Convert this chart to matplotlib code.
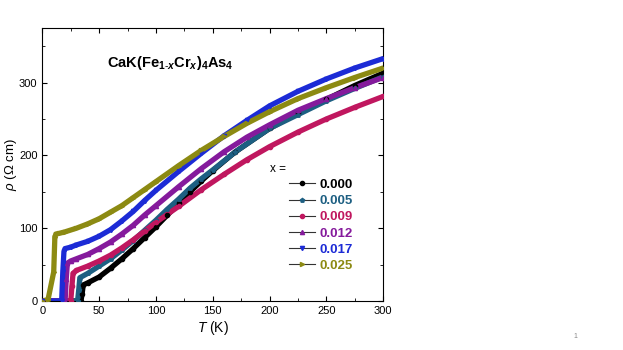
import numpy             as np
import matplotlib.pyplot as plt

plt.rcParams['font.family'] = ['Liberation Sans', 'DejaVu Sans']
plt.rcParams['mathtext.fontset'] = 'custom'
plt.rcParams['mathtext.rm'] = 'Liberation Sans'
plt.rcParams['mathtext.it'] = 'Liberation Sans:italic'
plt.rcParams['mathtext.bf'] = 'Liberation Sans:bold'
plt.rcParams['mathtext.bfit'] = 'Liberation Sans:bold:italic'

# resistivity curves (T in K, rho in Ohm cm)
labels  = [ '0.000', '0.005', '0.009', '0.012', '0.017', '0.025' ]
colors  = [ '#000000', '#1d5f82', '#c0175f', '#851a9c', '#1c2bd6', '#8c8a12' ]
markers = [ 'o', 'p', 'o', '^', 'v', '>' ]

T_000   = [ 0, 34, 35, 36, 40, 50, 60, 70, 80, 90, 100, 110, 120, 130, 140, 150, 170, 200, 225, 250, 275, 300 ]
rho_000 = [ 0, 0, 10, 22, 25, 33, 45, 58, 72, 87, 102, 118, 134, 150, 165, 179, 205, 237, 258, 277, 296, 313 ]

T_005   = [ 0, 31, 32, 33, 40, 50, 60, 70, 80, 90, 100, 110, 120, 130, 140, 150, 170, 200, 225, 250, 275, 300 ]
rho_005 = [ 0, 0, 15, 32, 38, 48, 58, 70, 83, 97, 111, 126, 140, 155, 168, 180, 205, 237, 256, 275, 292, 308 ]

T_009   = [ 0, 25, 26, 27, 30, 40, 50, 60, 70, 80, 90, 100, 120, 140, 160, 180, 200, 225, 250, 275, 300 ]
rho_009 = [ 0, 0, 20, 38, 42, 48, 55, 63, 73, 84, 96, 108, 130, 153, 174, 194, 212, 232, 250, 266, 281 ]

T_012   = [ 0, 20, 21, 22, 25, 30, 40, 50, 60, 70, 80, 90, 100, 120, 140, 160, 180, 200, 225, 250, 275, 300 ]
rho_012 = [ 0, 0, 30, 52, 55, 58, 64, 72, 81, 92, 104, 118, 131, 157, 182, 205, 225, 242, 262, 278, 293, 307 ]

T_017   = [ 0, 17, 18, 19, 20, 25, 30, 40, 50, 60, 70, 80, 90, 100, 120, 140, 160, 180, 200, 225, 250, 275, 300 ]
rho_017 = [ 0, 0, 40, 68, 72, 74, 77, 82, 89, 98, 110, 123, 138, 152, 178, 203, 227, 248, 268, 288, 305, 320, 333 ]

T_025   = [ 0, 5, 10, 11, 12, 15, 20, 30, 40, 50, 60, 70, 80, 90, 100, 120, 140, 160, 180, 200, 225, 250, 275, 300 ]
rho_025 = [ 0, 2, 40, 88, 92, 93, 95, 100, 106, 113, 122, 131, 142, 153, 164, 186, 207, 226, 244, 260, 278, 293, 307, 320 ]

T_all   = [ T_000, T_005, T_009, T_012, T_017, T_025 ]
rho_all = [ rho_000, rho_005, rho_009, rho_012, rho_017, rho_025 ]


fig = plt.figure( figsize=(6.23, 3.5), dpi=100 )
ax  = fig.add_axes( [0.068, 0.14, 0.547, 0.78] )

for T, rho, c, m, lab in zip( T_all, rho_all, colors, markers, labels ):
    ax.plot( T, rho, color=c, lw=3.8, solid_capstyle='round', solid_joinstyle='round', zorder=2 )
    ax.plot( T, rho, color=c, lw=0, marker=m, ms=3, mfc=c, mec=c, zorder=3 )
    # legend handle only
    ax.plot( [], [], color='#333333', lw=0.8, marker=m, ms=3, mfc=c, mec=c, label=lab )

ax.set_xlim( 0, 300 )
ax.set_ylim( 0, 375 )
ax.set_xticks( [0, 50, 100, 150, 200, 250, 300] )
ax.set_yticks( [0, 100, 200, 300] )
ax.set_xticks( np.arange(25, 300, 50), minor=True )
ax.set_yticks( [50, 150, 250, 350], minor=True )
ax.tick_params( which='both', direction='in', top=True, right=True, labelsize=8 )
ax.tick_params( which='major', length=3.5 )
ax.tick_params( which='minor', length=2 )

ax.set_xlabel( r'$\mathit{T}$ (K)', fontsize=10, labelpad=2 )
ax.set_ylabel( r'$\rho$ ($\Omega$ cm)', fontsize=9.5, labelpad=0 )

ax.text( 57, 322, r'$\mathbf{CaK(Fe_{1\text{-}\mathbfit{x}}Cr_{\mathbfit{x}})_4As_4}$',
         fontsize=10.5 )

ax.text( 0.668, 0.482, 'x =', transform=ax.transAxes, fontsize=8.5, va='center' )
leg = ax.legend( loc='upper left', bbox_to_anchor=(0.724, 0.448), frameon=False,
                 fontsize=9.5, handlelength=2.0, handletextpad=0.3,
                 labelspacing=0.3, borderpad=0, borderaxespad=0 )
for txt, c in zip( leg.get_texts(), colors ):
    txt.set_color( c )
    txt.set_fontweight( 'bold' )

fig.text( 0.92, 0.035, '1', fontsize=5, color='#888888' )

plt.savefig( 'out.png', dpi=100 )
